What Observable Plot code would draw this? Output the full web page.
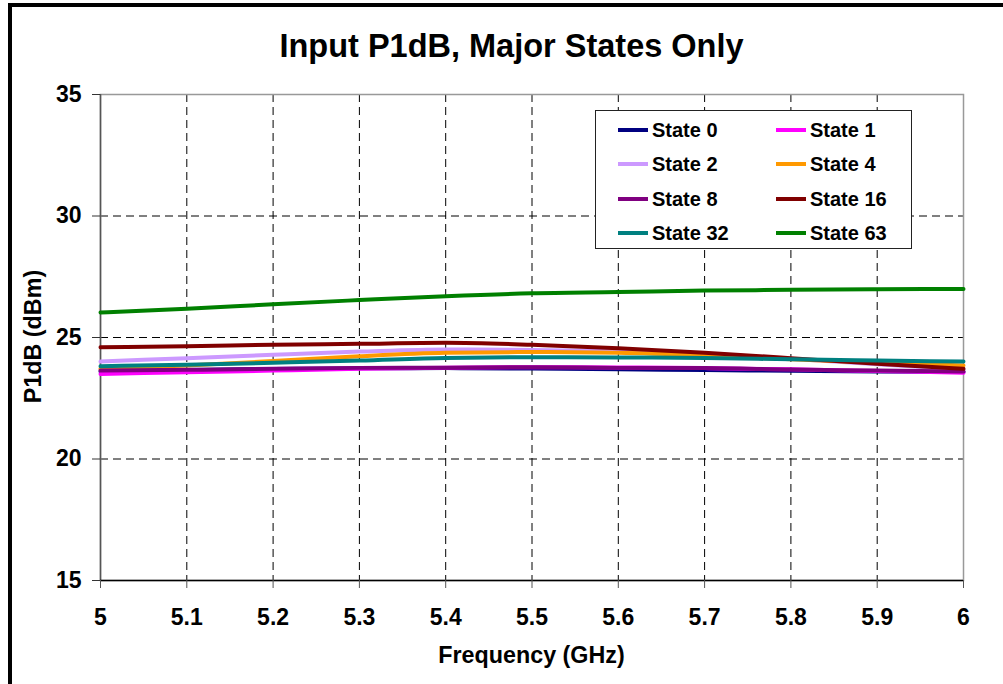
<!DOCTYPE html>
<html>
<head>
<meta charset="utf-8">
<script src="https://cdn.jsdelivr.net/npm/d3@7"></script>
<script src="https://cdn.jsdelivr.net/npm/@observablehq/plot@0.6"></script>
<style>
  html, body { margin: 0; padding: 0; background: #fff; overflow: hidden; }
  body { width: 1003px; height: 684px; position: relative; font-family: "Liberation Sans", Arial, sans-serif; font-weight: bold; color: #000; }
  #frame { position: absolute; left: 8px; top: 3px; width: 1100px; height: 800px; border: 4px solid #000; box-sizing: border-box; }
  #chart { position: absolute; left: 0; top: 0; }
  #title { position: absolute; left: 0; width: 1023px; top: 30px; text-align: center; font-size: 32.5px; line-height: 32.5px; white-space: nowrap; }
  #xlabel { position: absolute; left: 331.5px; width: 400px; top: 644px; text-align: center; font-size: 23.3px; line-height: 23px; white-space: nowrap; }
  #ylabel { position: absolute; left: -67px; width: 200px; top: 325px; text-align: center; font-size: 23.3px; line-height: 23px; white-space: nowrap; transform: rotate(-90deg); transform-origin: 50% 50%; }
  #legend { position: absolute; left: 595px; top: 110px; width: 317px; height: 139px; border: 1px solid #222; background: #fff; box-sizing: border-box; }
  .lg-line { position: absolute; height: 4px; width: 30px; }
  .lg-text { position: absolute; font-size: 20px; line-height: 20px; white-space: nowrap; }
</style>
</head>
<body>
<div id="frame"></div>
<div id="chart"></div>
<div id="title">Input P1dB, Major States Only</div>
<div id="xlabel">Frequency (GHz)</div>
<div id="ylabel">P1dB (dBm)</div>
<div id="legend"></div>
<script>
// ---- data ----
const frequencies = [5.0, 5.1, 5.2, 5.3, 5.4, 5.5, 5.6, 5.7, 5.8, 5.9, 6.0];
const seriesNames = ["State 0", "State 1", "State 2", "State 4", "State 8", "State 16", "State 32", "State 63"];
const seriesColors = ["#000080", "#FF00FF", "#CC99FF", "#FF9900", "#800080", "#800000", "#008080", "#008000"];
const state0  = [23.60, 23.66, 23.70, 23.73, 23.74, 23.72, 23.69, 23.66, 23.63, 23.60, 23.58];
const state1  = [23.50, 23.57, 23.64, 23.71, 23.76, 23.78, 23.77, 23.74, 23.69, 23.62, 23.55];
const state2  = [24.01, 24.15, 24.29, 24.42, 24.51, 24.49, 24.43, 24.33, 24.13, 23.90, 23.68];
const state4  = [23.71, 23.85, 24.03, 24.23, 24.37, 24.40, 24.37, 24.26, 24.10, 23.96, 23.85];
const state8  = [23.64, 23.67, 23.71, 23.75, 23.76, 23.78, 23.75, 23.74, 23.68, 23.64, 23.60];
const state16 = [24.60, 24.64, 24.70, 24.74, 24.78, 24.70, 24.56, 24.37, 24.15, 23.92, 23.71];
const state32 = [23.82, 23.88, 23.96, 24.05, 24.16, 24.19, 24.18, 24.16, 24.10, 24.05, 24.01];
const state63 = [26.03, 26.18, 26.37, 26.54, 26.70, 26.82, 26.87, 26.93, 26.96, 26.99, 27.00];
const xTicks = [5.0, 5.1, 5.2, 5.3, 5.4, 5.5, 5.6, 5.7, 5.8, 5.9, 6.0];
const yTicks = [15, 20, 25, 30, 35];

const allSeries = [state0, state1, state2, state4, state8, state16, state32, state63];
const rows = [];
allSeries.forEach((vals, i) => vals.forEach((v, j) => rows.push({series: seriesNames[i], f: frequencies[j], v})));

const dash = "8,5";
const chart = Plot.plot({
  width: 1003,
  height: 684,
  marginTop: 94,
  marginBottom: 104,
  marginLeft: 100,
  marginRight: 40,
  style: {fontFamily: "'Liberation Sans', Arial, sans-serif", fontSize: "23px", fontWeight: "bold", color: "#000", background: "transparent"},
  x: {domain: [5, 6]},
  y: {domain: [15, 35]},
  color: {domain: seriesNames, range: seriesColors},
  marks: [
    Plot.ruleX(xTicks.slice(1, -1), {stroke: "#000", strokeWidth: 1, strokeDasharray: dash}),
    Plot.ruleY(yTicks.slice(1, -1), {stroke: "#000", strokeWidth: 1, strokeDasharray: dash}),
    Plot.frame({stroke: "#999", strokeWidth: 1.5}),
    Plot.ruleX([5], {stroke: "#555", strokeWidth: 1.5}),
    Plot.ruleY([15], {stroke: "#000", strokeWidth: 1.5}),
    ...seriesNames.map(name => Plot.line(rows.filter(d => d.series === name), {
      x: "f", y: "v", stroke: "series", strokeWidth: 4, curve: "monotone-x"
    })),
    Plot.axisX({ticks: xTicks, tickSize: 8, tickPadding: 20, stroke: "#555", label: null,
      tickFormat: d => String(+d.toFixed(1)), fontSize: 23}),
    Plot.axisY({ticks: yTicks, tickSize: 8, tickPadding: 11, stroke: "#333", label: null,
      tickFormat: d => String(d), fontSize: 23})
  ]
});
document.getElementById("chart").appendChild(chart);

// legend
const legend = document.getElementById("legend");
const colLine = [22, 180];
const colText = [56, 214];
const rowY = [19, 53, 87.5, 122];
seriesNames.forEach((name, i) => {
  const c = i % 2, r = Math.floor(i / 2);
  const ln = document.createElement("div");
  ln.className = "lg-line";
  ln.style.left = colLine[c] + "px";
  ln.style.top = (rowY[r] - 2) + "px";
  ln.style.background = seriesColors[i];
  legend.appendChild(ln);
  const tx = document.createElement("div");
  tx.className = "lg-text";
  tx.style.left = colText[c] + "px";
  tx.style.top = (rowY[r] - 10) + "px";
  tx.textContent = name;
  legend.appendChild(tx);
});
</script>
</body>
</html>
